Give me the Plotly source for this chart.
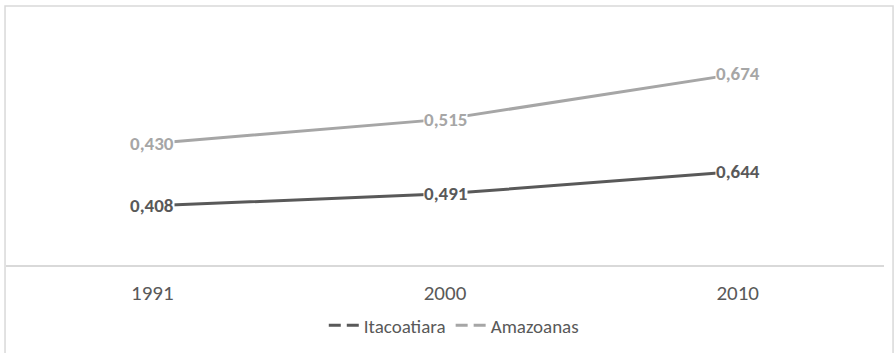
import plotly.graph_objects as go

# Índice por ano (linhas empilhadas: Amazonas desenhado sobre Itacoatiara)
anos = ["1991", "2000", "2010"]
itacoatiara = [0.408, 0.491, 0.644]
amazonas = [0.430, 0.515, 0.674]

cor_ita = "#595959"
cor_ama = "#a6a6a6"
fonte = "Carlito, Calibri, Lato, sans-serif"

def rotulo(v):
    return f"{v:.3f}".replace(".", ",")

amazonas_empilhado = [a + b for a, b in zip(itacoatiara, amazonas)]

fig = go.Figure()

fig.add_trace(go.Scatter(
    x=anos, y=itacoatiara, mode="lines",
    line=dict(color=cor_ita, width=3), showlegend=False, hoverinfo="skip",
))
fig.add_trace(go.Scatter(
    x=anos, y=amazonas_empilhado, mode="lines",
    line=dict(color=cor_ama, width=3), showlegend=False, hoverinfo="skip",
))

# Entradas da legenda com traço tracejado
fig.add_trace(go.Scatter(
    x=[None], y=[None], mode="lines", name="Itacoatiara",
    line=dict(color=cor_ita, width=3, dash="12px,6px"),
))
fig.add_trace(go.Scatter(
    x=[None], y=[None], mode="lines", name="Amazoanas",
    line=dict(color=cor_ama, width=3, dash="12px,6px"),
))

# Rótulos de dados com fundo branco (posição pelo índice da categoria)
for i, (yv, v) in enumerate(zip(itacoatiara, itacoatiara)):
    fig.add_annotation(x=i, y=yv, xref="x", yref="y", text=f"<b>{rotulo(v)}</b>",
                       showarrow=False, xanchor="center", yanchor="middle",
                       bgcolor="white", borderpad=0,
                       font=dict(family=fonte, size=19, color=cor_ita))
for i, (yv, v) in enumerate(zip(amazonas_empilhado, amazonas)):
    fig.add_annotation(x=i, y=yv, xref="x", yref="y", text=f"<b>{rotulo(v)}</b>",
                       showarrow=False, xanchor="center", yanchor="middle",
                       bgcolor="white", borderpad=0,
                       font=dict(family=fonte, size=19, color=cor_ama))

# Moldura da área do gráfico
fig.add_shape(type="rect", xref="paper", yref="paper",
              x0=-0.0011, x1=1.0103, y0=-0.5, y1=1.116,
              line=dict(color="#d9d9d9", width=1.5), fillcolor="rgba(0,0,0,0)", layer="below")

fig.update_layout(
    width=895, height=353,
    margin=dict(l=6, r=11, t=33, b=88),
    paper_bgcolor="white", plot_bgcolor="white",
    font=dict(family=fonte, color=cor_ita),
    xaxis=dict(type="category", range=[-0.5, 2.5], showgrid=False, zeroline=False,
               showline=True, linecolor="#d9d9d9", linewidth=1.5, ticks="",
               ticklabelstandoff=8,
               tickfont=dict(family=fonte, size=21, color=cor_ita)),
    yaxis=dict(range=[0, 1.6], visible=False, showgrid=False),
    legend=dict(orientation="h", x=0.51, xanchor="center", y=-0.26, yanchor="middle",
                font=dict(family=fonte, size=19, color=cor_ita),
                itemwidth=30, bgcolor="rgba(0,0,0,0)"),
    showlegend=True,
)

fig.write_html("out.html")
